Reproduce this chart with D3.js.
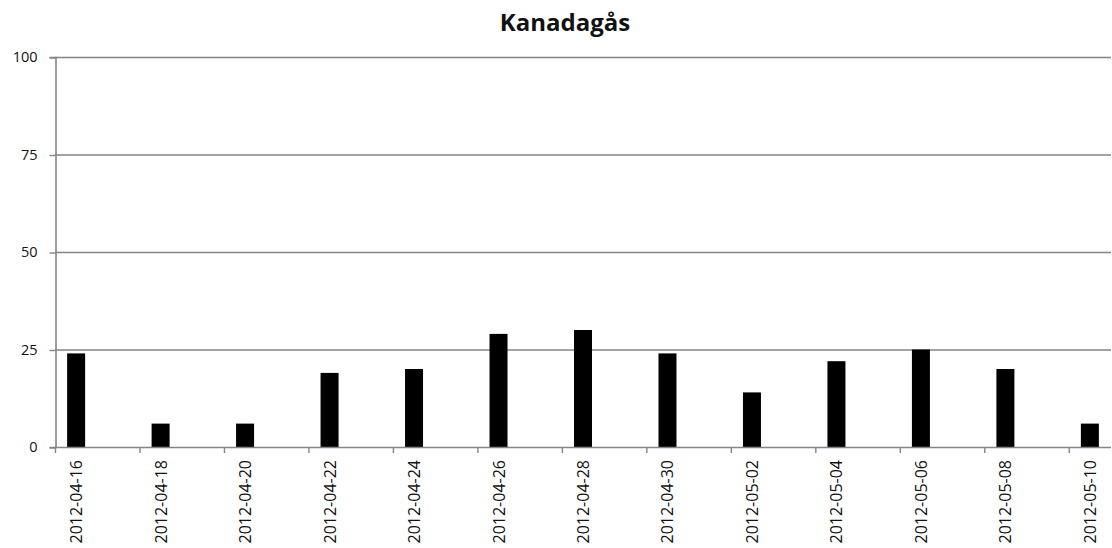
<!DOCTYPE html>
<html><head><meta charset="utf-8">
<script src="https://cdn.jsdelivr.net/npm/d3@7"></script>
<style>body{margin:0;background:#fff}svg{display:block}</style>
</head><body>
<svg id="c" width="1112" height="548"></svg>
<script>
const title = "Kanadagås";
const dates = ["2012-04-16","2012-04-18","2012-04-20","2012-04-22","2012-04-24","2012-04-26","2012-04-28","2012-04-30","2012-05-02","2012-05-04","2012-05-06","2012-05-08","2012-05-10"];
const values = [24, 6, 6, 19, 20, 29, 30, 24, 14, 22, 25, 20, 6];
const yTicks = [0, 25, 50, 75, 100];

const svg = d3.select("#c");
const font = "'Open Sans', 'Liberation Sans', sans-serif";
const m = {left: 55, right: 1111, top: 57, bottom: 447};
const parse = d3.utcParse("%Y-%m-%d");
const fmt = d3.utcFormat("%Y-%m-%d");
const start = parse(dates[0]);
const endDay = d3.utcDay.offset(parse(dates[dates.length-1]), 1);
const days = d3.utcDay.range(start, endDay).map(fmt);

const x = d3.scaleBand().domain(days).range([m.left, m.right]).paddingInner(0).paddingOuter(0);
const y = d3.scaleLinear().domain([0, 100]).range([m.bottom, m.top]);
const gray = "#858585";

// gridlines
svg.append("g").selectAll("line").data(yTicks.filter(d => d > 0)).join("line")
  .attr("x1", m.left).attr("x2", m.right)
  .attr("y1", d => y(d) + 0.5).attr("y2", d => y(d) + 0.5)
  .attr("stroke", gray).attr("stroke-width", 1.4);

// y axis
const ya = svg.append("g").attr("transform", `translate(${m.left + 0.5},0)`)
  .call(d3.axisLeft(y).tickValues(yTicks).tickSize(6).tickPadding(12));
ya.select(".domain").attr("stroke", gray).attr("stroke-width", 1.6);
ya.selectAll(".tick line").attr("stroke", gray).attr("stroke-width", 1.4).attr("transform", "translate(0,0.5)");
ya.selectAll(".tick text").attr("font-family", font).attr("font-size", 14.5).attr("fill", "#111");

// bars
const bw = 18;
svg.append("g").selectAll("rect").data(dates.map((d, i) => ({d, v: values[i]}))).join("rect")
  .attr("x", d => x(d.d) + x.bandwidth() / 2 - bw / 2)
  .attr("width", bw)
  .attr("y", d => y(d.v))
  .attr("height", d => y(0) - y(d.v))
  .attr("fill", "#000");

// x axis line
svg.append("line").attr("x1", m.left).attr("x2", m.right)
  .attr("y1", m.bottom + 0.5).attr("y2", m.bottom + 0.5)
  .attr("stroke", gray).attr("stroke-width", 1.6);

// x ticks at day boundaries every 2 days
svg.append("g").selectAll("line").data(dates).join("line")
  .attr("x1", d => x(d) + 0.5).attr("x2", d => x(d) + 0.5)
  .attr("y1", m.bottom).attr("y2", m.bottom + 6)
  .attr("stroke", gray).attr("stroke-width", 1.4);

// x labels
svg.append("g").selectAll("text").data(dates).join("text")
  .attr("transform", d => `translate(${x(d) + x.bandwidth() / 2 + 6},${m.bottom + 13}) rotate(-90)`)
  .attr("text-anchor", "end")
  .attr("font-family", font).attr("font-size", 16).attr("fill", "#111")
  .text(d => d);

// title
svg.append("text").attr("x", 565).attr("y", 31).attr("text-anchor", "middle")
  .attr("font-family", font).attr("font-weight", "bold").attr("font-size", 24).attr("fill", "#111")
  .text(title);
</script>
</body></html>
